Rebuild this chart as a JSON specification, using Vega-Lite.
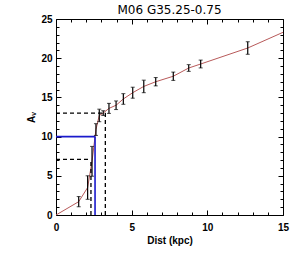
{
  "$schema": "https://vega.github.io/schema/vega-lite/v6.json",
  "width": 227,
  "height": 196,
  "autosize": "none",
  "padding": {"left": 56, "top": 19, "right": 17, "bottom": 38},
  "background": "white",
  "config": {"view": {"stroke": "black", "strokeWidth": 1}, "font": "Liberation Sans"},
  "title": {"text": "M06 G35.25-0.75", "fontSize": 12, "fontWeight": "normal", "font": "DejaVu Sans", "offset": -3, "color": "black"},
  "datasets": {
    "pts": [
      {"d": 1.5, "av": 1.7, "err": 0.65},
      {"d": 2.09, "av": 3.5, "err": 1.5},
      {"d": 2.38, "av": 6.85, "err": 1.9},
      {"d": 2.64, "av": 10.9, "err": 0.75},
      {"d": 2.86, "av": 12.7, "err": 0.8},
      {"d": 3.12, "av": 13.0, "err": 0.3},
      {"d": 3.5, "av": 13.6, "err": 0.64},
      {"d": 3.97, "av": 14.0, "err": 0.55},
      {"d": 4.45, "av": 14.8, "err": 0.68},
      {"d": 5.07, "av": 15.6, "err": 0.7},
      {"d": 5.8, "av": 16.4, "err": 0.8},
      {"d": 6.59, "av": 17.0, "err": 0.53},
      {"d": 7.75, "av": 17.7, "err": 0.53},
      {"d": 8.77, "av": 18.75, "err": 0.43},
      {"d": 9.56, "av": 19.26, "err": 0.5},
      {"d": 12.67, "av": 21.3, "err": 0.8}
    ],
    "curve": [
      {"d": 0, "av": 0},
      {"d": 1.5, "av": 1.7},
      {"d": 2.09, "av": 3.5},
      {"d": 2.38, "av": 6.85},
      {"d": 2.64, "av": 10.9},
      {"d": 2.86, "av": 12.7},
      {"d": 3.12, "av": 13.0},
      {"d": 3.5, "av": 13.6},
      {"d": 3.97, "av": 14.0},
      {"d": 4.45, "av": 14.8},
      {"d": 5.07, "av": 15.6},
      {"d": 5.8, "av": 16.4},
      {"d": 6.59, "av": 17.0},
      {"d": 7.75, "av": 17.7},
      {"d": 8.77, "av": 18.75},
      {"d": 9.56, "av": 19.26},
      {"d": 12.67, "av": 21.3},
      {"d": 15, "av": 23.3}
    ],
    "dashed": [
      {"x1": 0, "x2": 3.26, "y1": 13, "y2": 13},
      {"x1": 3.26, "x2": 3.26, "y1": 0, "y2": 13},
      {"x1": 0, "x2": 2.31, "y1": 7.1, "y2": 7.1},
      {"x1": 2.31, "x2": 2.31, "y1": 0, "y2": 7.1}
    ],
    "blue": [
      {"x1": 0, "x2": 2.58, "y1": 10, "y2": 10},
      {"x1": 2.58, "x2": 2.58, "y1": 0, "y2": 10}
    ]
  },
  "resolve": {"axis": {"x": "independent", "y": "independent"}},
  "layer": [
    {
      "data": {"name": "curve"},
      "mark": {"type": "line", "color": "#b85a5a", "strokeWidth": 1},
      "encoding": {
        "x": {"field": "d", "type": "quantitative", "scale": {"domain": [0, 15], "nice": false},
          "axis": {"orient": "bottom", "values": [0,1,2,3,4,5,6,7,8,9,10,11,12,13,14,15], "labelExpr": "datum.value % 5 === 0 ? datum.label : ''",
            "tickSize": {"condition": {"test": "datum.value % 5 === 0", "value": -5}, "value": -3},
            "tickColor": "black", "domain": false, "grid": false, "labelPadding": 12, "labelFontSize": 10, "labelFontWeight": "bold", "labelColor": "black",
            "title": "Dist (kpc)", "titleFontSize": 10, "titleFontWeight": "bold", "titleColor": "black", "titlePadding": 3, "labelFlush": false}},
        "y": {"field": "av", "type": "quantitative", "scale": {"domain": [0, 25], "nice": false},
          "axis": {"orient": "left", "values": [0,1,2,3,4,5,6,7,8,9,10,11,12,13,14,15,16,17,18,19,20,21,22,23,24,25], "labelExpr": "datum.value % 5 === 0 ? datum.label : ''",
            "tickSize": {"condition": {"test": "datum.value % 5 === 0", "value": -5}, "value": -3},
            "tickColor": "black", "domain": false, "grid": false, "labelPadding": 9, "labelFontSize": 10, "labelFontWeight": "bold", "labelColor": "black",
            "title": "Aᵥ", "titleFontSize": 10, "titleFontWeight": "bold", "titleColor": "black", "titlePadding": 4, "labelFlush": false}}
      }
    },
    {
      "data": {"name": "dashed"},
      "mark": {"type": "rule", "color": "black", "strokeWidth": 1.3, "strokeDash": [4, 3]},
      "encoding": {
        "x": {"field": "x1", "type": "quantitative",
          "axis": {"orient": "top", "values": [0,1,2,3,4,5,6,7,8,9,10,11,12,13,14,15], "labels": false, "title": null,
            "tickSize": {"condition": {"test": "datum.value % 5 === 0", "value": -5}, "value": -3},
            "tickColor": "black", "domain": false, "grid": false}},
        "x2": {"field": "x2"},
        "y": {"field": "y1", "type": "quantitative",
          "axis": {"orient": "right", "values": [0,1,2,3,4,5,6,7,8,9,10,11,12,13,14,15,16,17,18,19,20,21,22,23,24,25], "labels": false, "title": null,
            "tickSize": {"condition": {"test": "datum.value % 5 === 0", "value": -5}, "value": -3},
            "tickColor": "black", "domain": false, "grid": false}},
        "y2": {"field": "y2"}
      }
    },
    {
      "data": {"name": "blue"},
      "mark": {"type": "rule", "color": "#1a1acc", "strokeWidth": 1.6},
      "encoding": {
        "x": {"field": "x1", "type": "quantitative", "axis": null},
        "x2": {"field": "x2"},
        "y": {"field": "y1", "type": "quantitative", "axis": null},
        "y2": {"field": "y2"}
      }
    },
    {
      "data": {"name": "pts"},
      "mark": {"type": "errorbar", "ticks": {"size": 4, "color": "black", "strokeWidth": 1.2}, "rule": {"color": "black", "strokeWidth": 1.2}},
      "encoding": {
        "x": {"field": "d", "type": "quantitative", "axis": null},
        "y": {"field": "av", "type": "quantitative", "axis": null},
        "yError": {"field": "err"}
      }
    }
  ]
}
